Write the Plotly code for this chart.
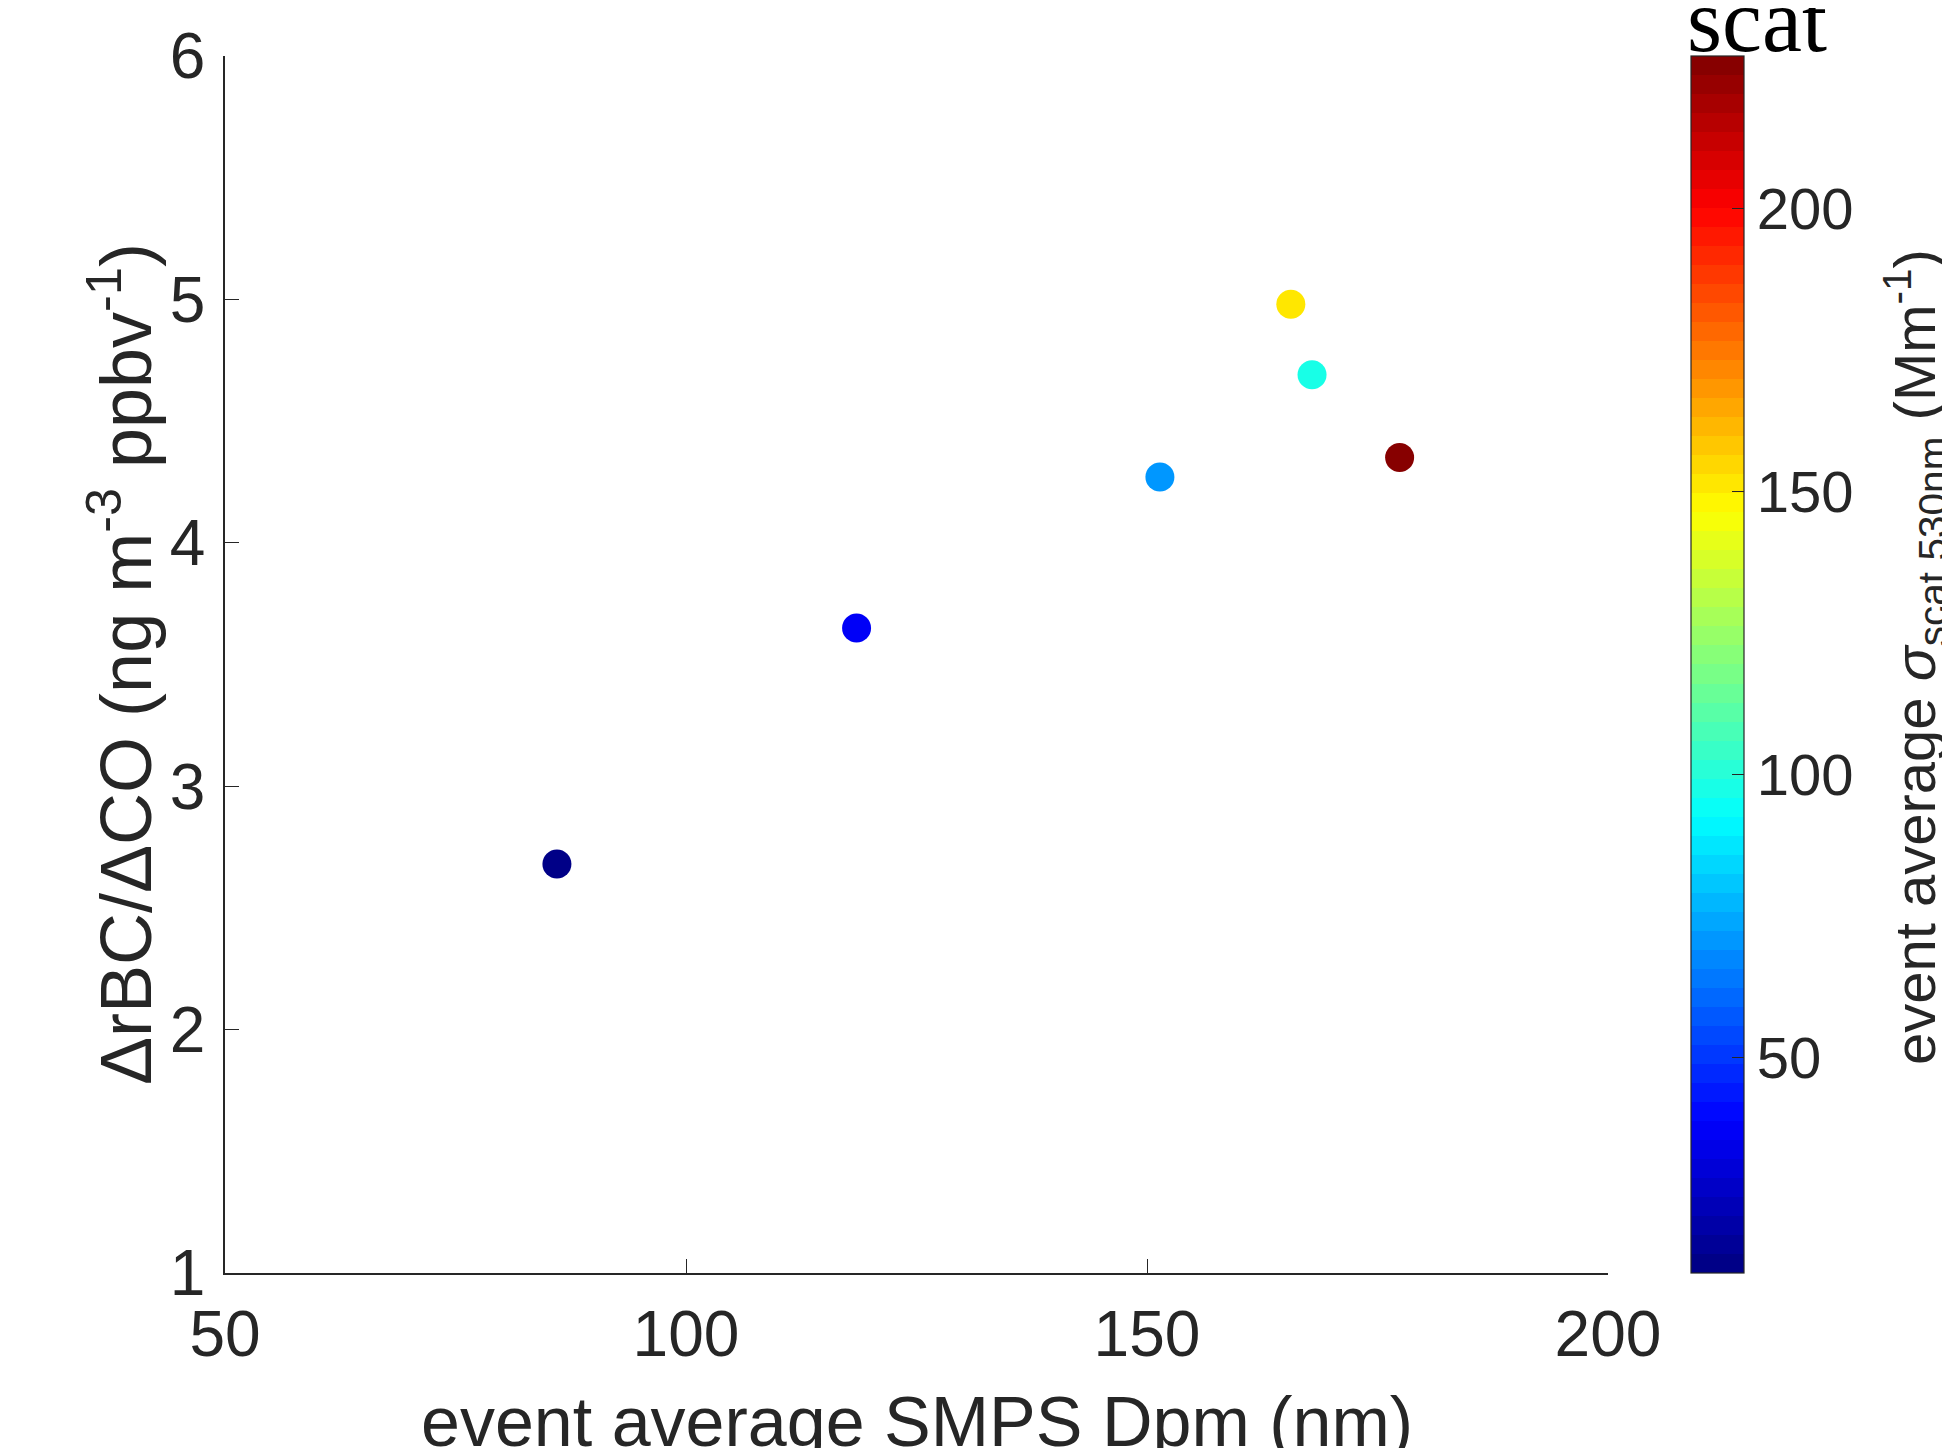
import plotly.graph_objects as go

# ---- data ----
dpm_nm = [86.0, 118.5, 151.4, 165.6, 167.9, 177.4]          # event average SMPS Dpm (nm)
rbc_co = [2.68, 3.65, 4.27, 4.98, 4.69, 4.35]               # ΔrBC/ΔCO (ng m-3 ppbv-1)
scat_530 = [14, 37, 70, 150, 98, 227]                       # event average σscat 530nm (Mm-1)

x_ticks = [50, 100, 150, 200]
y_ticks = [1, 2, 3, 4, 5, 6]
cb_ticks = [50, 100, 150, 200]
cb_min, cb_max = 12, 227

# ---- MATLAB-style jet (64 discrete levels) ----
def jet(t):
    def ch(v):
        return max(0.0, min(1.0, v))
    r = ch(1.5 - abs(4 * t - 3))
    g = ch(1.5 - abs(4 * t - 2))
    b = ch(1.5 - abs(4 * t - 1))
    return "rgb(%d,%d,%d)" % (round(r * 255), round(g * 255), round(b * 255))

N = 64
colorscale = []
for i in range(N):
    c = jet((i + 0.5) / N)
    colorscale.append([i / N, c])
    colorscale.append([(i + 1) / N, c])

FONT = "Liberation Sans, Arial, Helvetica, sans-serif"
DARK = "#262626"

fig = go.Figure()
fig.add_trace(go.Scatter(
    x=dpm_nm, y=rbc_co, mode="markers",
    marker=dict(
        size=29, color=scat_530, colorscale=colorscale,
        cmin=cb_min, cmax=cb_max, line=dict(width=0),
        showscale=True,
        colorbar=dict(
            x=1.060, xanchor="left", y=0.5, yanchor="middle",
            len=1.0, lenmode="fraction", thickness=53, thicknessmode="pixels",
            xpad=0, ypad=0, outlinewidth=1.2, outlinecolor=DARK,
            ticks="inside", ticklen=12, tickwidth=1.2, tickcolor=DARK,
            tickvals=cb_ticks, ticktext=[str(v) for v in cb_ticks],
            tickfont=dict(family=FONT, size=58, color=DARK),
        ),
    ),
    showlegend=False,
))

fig.update_layout(
    width=1950, height=1448,
    margin=dict(l=217, r=350, t=48, b=183, autoexpand=False),
    paper_bgcolor="white", plot_bgcolor="white",
    font=dict(family=FONT, color=DARK),
    xaxis=dict(
        range=[50, 200], tickvals=x_ticks, ticktext=[str(v) for v in x_ticks],
        showgrid=False, zeroline=False, showline=True, linecolor=DARK, linewidth=1.5,
        ticks="inside", ticklen=14, tickwidth=1.2, tickcolor=DARK, mirror=False,
        tickfont=dict(family=FONT, size=64, color=DARK),
        ticklabelstandoff=4,
    ),
    yaxis=dict(
        range=[1, 6], tickvals=y_ticks, ticktext=[str(v) for v in y_ticks],
        showgrid=False, zeroline=False, showline=True, linecolor=DARK, linewidth=1.5,
        ticks="inside", ticklen=14, tickwidth=1.2, tickcolor=DARK, mirror=False,
        tickfont=dict(family=FONT, size=64, color=DARK),
        ticklabelstandoff=5,
    ),
)

# x-axis title (descenders run off the bottom edge as in the reference)
fig.add_annotation(
    text="event average SMPS Dpm (nm)",
    xref="paper", yref="paper", x=0.5, y=-0.0887, xanchor="center", yanchor="top",
    showarrow=False,
    font=dict(family=FONT, size=70, color=DARK),
)

# y-axis title (rotated)
fig.add_annotation(
    text="ΔrBC/ΔCO (ng m<sup>-3</sup> ppbv<sup>-1</sup>)",
    xref="paper", yref="paper", x=-0.0755, y=0.5, xanchor="center", yanchor="middle",
    textangle=-90, showarrow=False,
    font=dict(family=FONT, size=72, color=DARK),
)

# colorbar title (rotated, partly running off the right edge as in the reference)
fig.add_annotation(
    text="event average <i>σ</i><sub>scat 530nm</sub> (Mm<sup>-1</sup>)",
    xref="paper", yref="paper", x=1.1904, y=0.506, xanchor="left", yanchor="middle",
    textangle=-90, showarrow=False,
    font=dict(family=FONT, size=58, color=DARK),
)

# fragment of caption text cut off at the top edge
fig.add_annotation(
    text="scat", xref="paper", yref="paper", x=1.1077, y=0.987,
    xanchor="center", yanchor="bottom", showarrow=False,
    font=dict(family="Liberation Serif, Times New Roman, serif", size=90, color="black"),
)

fig.write_html("out.html")
